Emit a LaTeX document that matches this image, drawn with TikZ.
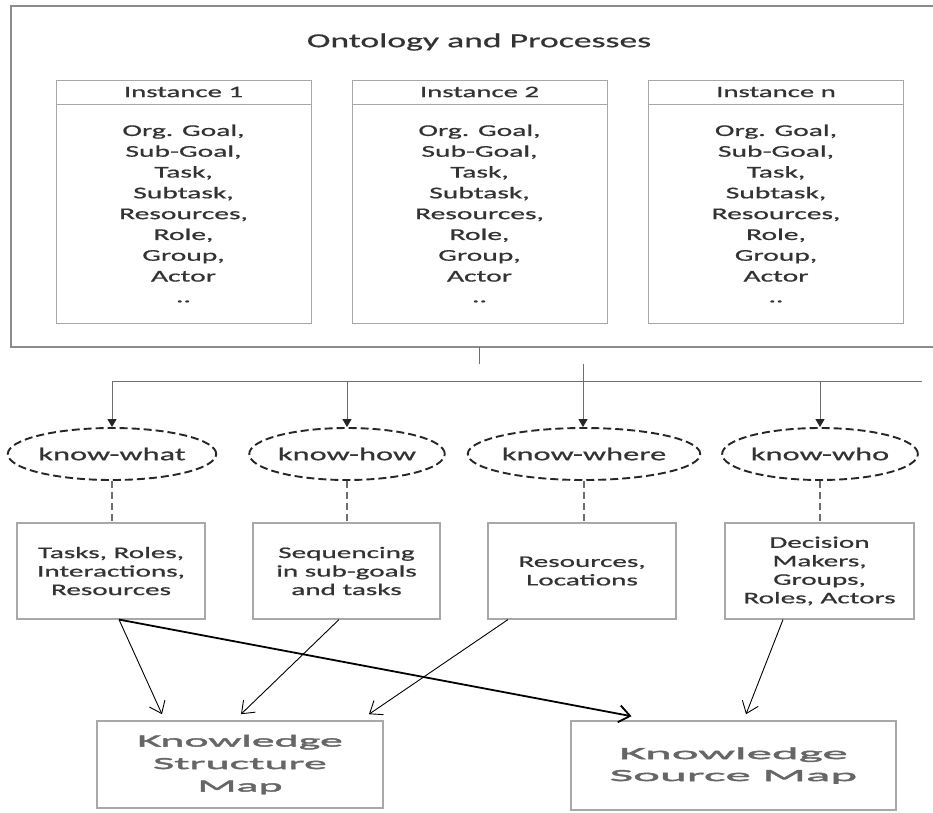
\documentclass[tikz,border=0pt]{standalone}
\usepackage{fontspec}
\setmainfont{Carlito}[FakeStretch=1.8,FakeBold=0.8]
\newfontfamily\kfontA{Carlito}[FakeStretch=2.7,FakeBold=2.5]
\newfontfamily\kfontB{Carlito}[FakeStretch=3.0,FakeBold=2.5]
\usetikzlibrary{arrows.meta,shapes.geometric}
\definecolor{txt}{HTML}{333333}
\definecolor{ktxt}{HTML}{666666}
\definecolor{framegray}{HTML}{8C8C8C}
\definecolor{boxgray}{HTML}{A8A8A8}
\definecolor{linegray}{HTML}{6E6E6E}
\tikzset{
  frameline/.style={draw=framegray, line width=1.6pt},
  ihead/.style={draw=boxgray, line width=1pt, minimum width=255pt, minimum height=24pt, inner sep=0pt, text=txt, font=\fontsize{16}{19}\selectfont},
  ibody/.style={draw=boxgray, line width=1pt, minimum width=255pt, minimum height=219pt, inner sep=0pt, text=txt, align=center, font=\fontsize{16.4}{20.8}\selectfont},
  kell/.style={ellipse, draw=black!85, dash pattern=on 8pt off 4pt, line width=1.9pt, minimum height=52pt, inner sep=0pt, text=txt, font=\fontsize{18}{21}\selectfont},
  kbox/.style={draw=boxgray, line width=1.1pt, minimum height=96pt, inner sep=0pt, text=txt, align=center, font=\fontsize{16.2}{18.5}\selectfont},
  mapbox/.style={draw=boxgray, line width=1.6pt, inner sep=0pt, text=ktxt, align=center},
  conn/.style={draw=linegray, line width=1pt},
  feedarrow/.style={conn, -{Triangle[length=8pt,width=9pt,color=black!85]}},
  dashlink/.style={draw=linegray, line width=1.5pt, dash pattern=on 7pt off 4pt},
  maparrow/.style={draw=black, line width=0.9pt, -{Straight Barb[length=11pt,width=17pt]}},
}
\begin{document}
\begin{tikzpicture}[x=1pt,y=-1pt]
\useasboundingbox (0,0) rectangle (933,812);
\fill[white] (0,0) rectangle (933,812);

% outer frame (right side runs off the picture)
\draw[frameline] (933,6) -- (11,6) -- (11,347) -- (933,347);
\node[text=txt, font=\fontsize{19.8}{23}\selectfont] (title) at (479,42) {Ontology and Processes};

% instances
\node[ihead] (h1) at (183.5,92) {Instance 1};
\node[ibody] (i1) at (183.5,213.5) {Org. Goal,\\Sub-Goal,\\Task,\\Subtask,\\Resources,\\Role,\\Group,\\Actor\\..};
\node[ihead] (h2) at (479.5,92) {Instance 2};
\node[ibody] (i2) at (479.5,213.5) {Org. Goal,\\Sub-Goal,\\Task,\\Subtask,\\Resources,\\Role,\\Group,\\Actor\\..};
\node[ihead] (h3) at (776,92) {Instance n};
\node[ibody] (i3) at (776,213.5) {Org. Goal,\\Sub-Goal,\\Task,\\Subtask,\\Resources,\\Role,\\Group,\\Actor\\..};

% connectors from the frame
\coordinate (stubtop) at (479,347);
\coordinate (stubend) at (479,364);
\coordinate (busL) at (113,381);
\coordinate (busR) at (922,381);
\coordinate (feed) at (583,364);
\draw[conn] (stubtop) -- (stubend);
\draw[conn] (busL) -- (busR);

% know- ellipses
\node[kell, minimum width=189pt] (kw) at (112,454) {know-what};
\node[kell, minimum width=187pt] (kh) at (347,454) {know-how};
\node[kell, minimum width=196pt] (kwh) at (584,454) {know-where};
\node[kell, minimum width=189pt] (kwo) at (820,454) {know-who};

\draw[feedarrow] (kw.north |- busL) -- (kw.north);
\draw[feedarrow] (kh.north |- busL) -- (kh.north);
\draw[feedarrow] (feed) -- (feed |- kwh.north);
\draw[feedarrow] (kwo.north |- busL) -- (kwo.north);

% boxes
\node[kbox, minimum width=188pt] (b1) at (111,571) {Tasks, Roles,\\Interactions,\\Resources};
\node[kbox, minimum width=187pt] (b2) at (346.5,571) {Sequencing\\in sub-goals\\and tasks};
\node[kbox, minimum width=188pt] (b3) at (582,571) {Resources,\\Locations};
\node[kbox, minimum width=189pt] (b4) at (819.5,571) {Decision\\Makers,\\Groups,\\Roles, Actors};

\draw[dashlink] (kw.south) -- (kw.south |- b1.north);
\draw[dashlink] (kh.south) -- (kh.south |- b2.north);
\draw[dashlink] (kwh.south) -- (kwh.south |- b3.north);
\draw[dashlink] (kwo.south) -- (kwo.south |- b4.north);

% maps
\node[mapbox, minimum width=286pt, minimum height=87pt, font=\kfontA\fontsize{17}{22.5}\selectfont] (ksm) at (240,764.5) {Knowledge\\Structure\\Map};
\node[mapbox, minimum width=325pt, minimum height=89pt, font=\kfontB\fontsize{17}{22}\selectfont] (ksom) at (733.5,765.5) {Knowledge\\Source Map};

\draw[maparrow] ([xshift=8pt]b1.south) -- ([xshift=-78pt,yshift=6pt]ksm.north);
\draw[maparrow] ([xshift=-7.5pt]b2.south) -- ([xshift=1pt,yshift=6pt]ksm.north);
\draw[maparrow] ([xshift=-74pt]b3.south) -- ([xshift=129pt,yshift=6pt]ksm.north);
\draw[maparrow, line width=1.8pt] ([xshift=8pt]b1.south) -- ([xshift=-102pt,yshift=4pt]ksom.north);
\draw[maparrow] ([xshift=-36.5pt]b4.south) -- ([xshift=12.5pt,yshift=6pt]ksom.north);
\end{tikzpicture}
\end{document}
